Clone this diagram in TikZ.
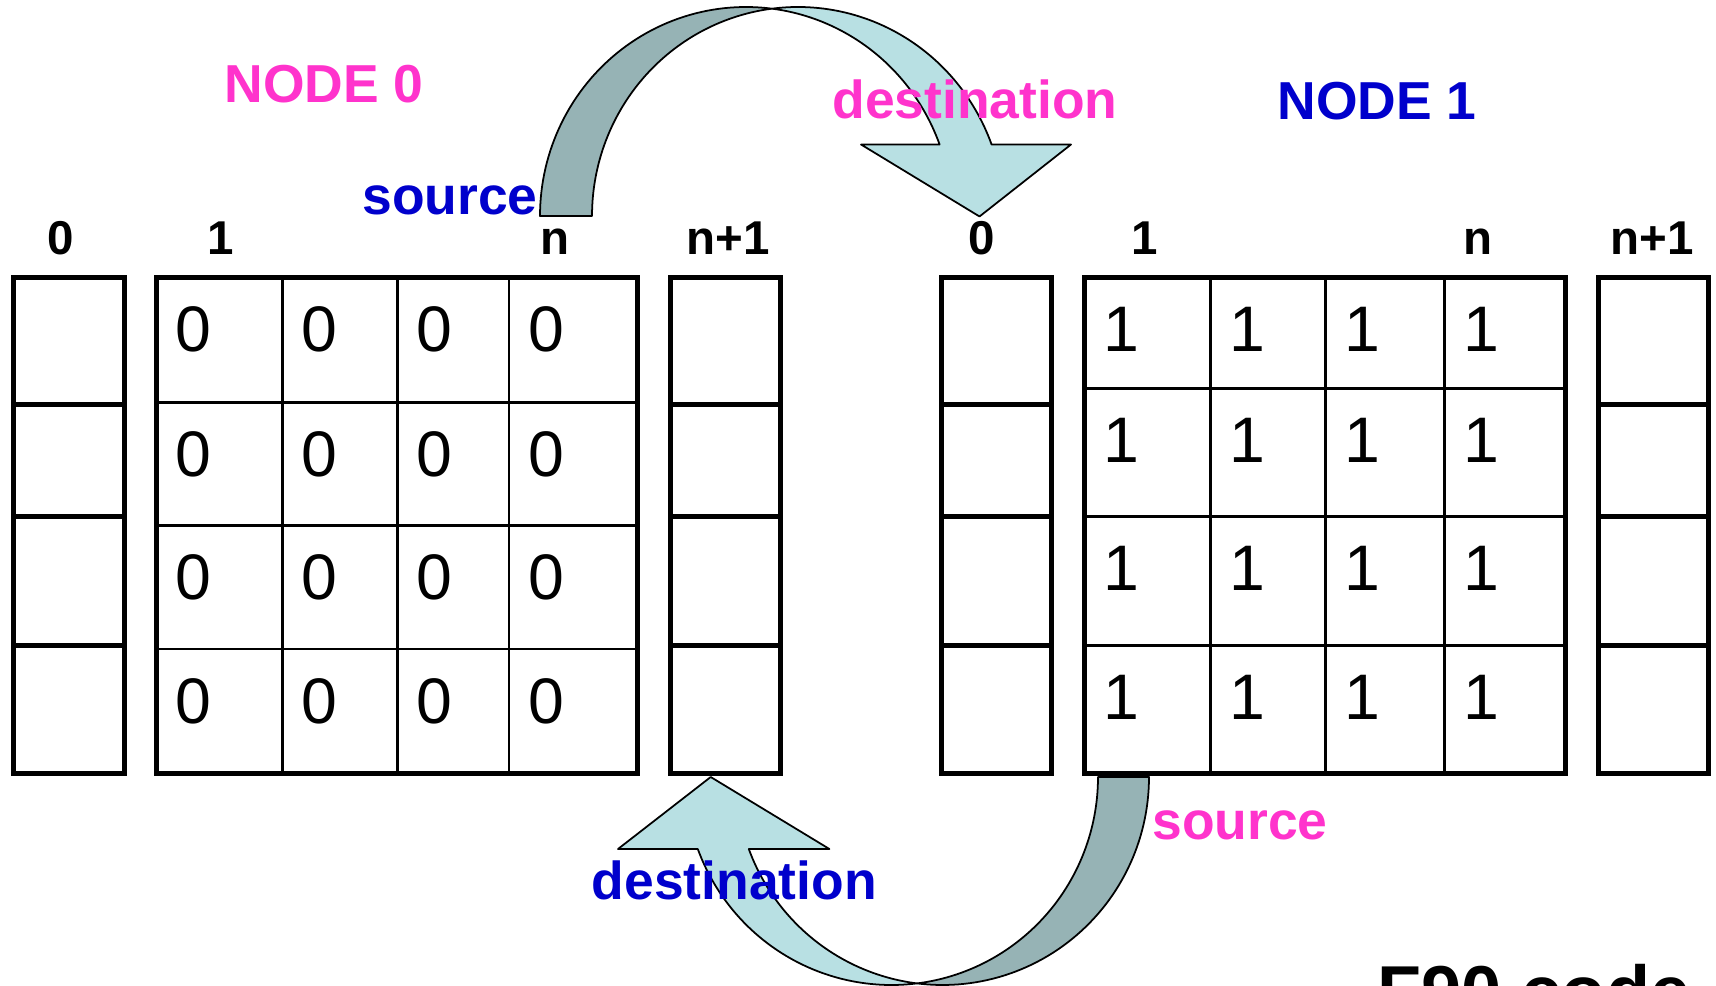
\documentclass[tikz,border=0pt]{standalone}
\usepackage{fontspec}
\setmainfont{Liberation Sans}
\definecolor{pinktxt}{RGB}{255,51,204}
\definecolor{bluetxt}{RGB}{0,0,204}
\definecolor{arrowlight}{RGB}{184,224,227}
\definecolor{arrowdark}{RGB}{150,179,181}
\begin{document}
\begin{tikzpicture}[x=0.01cm,y=-0.01cm,
  boxline/.style={line width=1.42pt},
  gridline/.style={line width=0.77pt},
  arrowpart/.style={draw=black,line width=0.5pt,line join=round},
  lbl/.style={font=\fontsize{15.2}{18}\selectfont\bfseries,inner sep=0pt,anchor=base},
  idx/.style={font=\fontsize{13.5}{16}\selectfont\bfseries,inner sep=0pt,anchor=base},
  cellnum/.style={font=\fontsize{18.3}{22}\selectfont,inner sep=0pt,anchor=base west}]
\useasboundingbox (0,0) rectangle (1716,986);

% ---------- side columns (stacks of four boxes) ----------
\foreach \xa/\xb in {13.2/124.8, 670/780, 941/1051, 1598/1708}{
  \draw[boxline] (\xa,277.5) rectangle (\xb,773.2);
  \foreach \yy in {405,516.6,645.7}{
    \draw[boxline] (\xa,\yy) -- (\xb,\yy);
  }
}

% ---------- left matrix ----------
\foreach \xx in {282.3,397.3,509}{\draw[gridline] (\xx,277.5) -- (\xx,773.2);}
\foreach \yy in {402.3,525.3,649}{\draw[gridline] (156.7,\yy) -- (637,\yy);}
\draw[boxline] (156.7,277.5) rectangle (637,773.2);
\foreach \c/\xx in {1/156.7,2/282.3,3/397.3,4/509}{
  \foreach \r/\yy in {1/277.5,2/402.3,3/525.3,4/649}{
    \node[cellnum] (L-\r-\c) at (\xx+18.5,\yy+74) {0};
  }
}

% ---------- right matrix ----------
\foreach \xx in {1210.7,1325.5,1444.5}{\draw[gridline] (\xx,277.5) -- (\xx,773.2);}
\foreach \yy in {388.7,516.6,645.7}{\draw[gridline] (1084.5,\yy) -- (1565.5,\yy);}
\draw[boxline] (1084.5,277.5) rectangle (1565.5,773.2);
\foreach \c/\xx in {1/1084.5,2/1210.7,3/1325.5,4/1444.5}{
  \foreach \r/\yy in {1/277.5,2/388.7,3/516.6,4/645.7}{
    \node[cellnum] (R-\r-\c) at (\xx+18.5,\yy+74) {1};
  }
}

% ---------- column indices ----------
\node[idx] (l0)  at (60.5,255) {0};
\node[idx] (l1)  at (220.5,255) {1};
\node[idx] (ln)  at (555,255) {n};
\node[idx] (lnp) at (728,255) {n+1};
\node[idx] (r0)  at (982,255) {0};
\node[idx] (r1)  at (1144.5,255) {1};
\node[idx] (rn)  at (1478,255) {n};
\node[idx] (rnp) at (1652,255) {n+1};

% ---------- top curved arrow (node 0 -> node 1) ----------
\path[arrowpart,fill=arrowdark]
  plot[domain=180:277.25,samples=60] ({746+206*cos(\x)},{216+209*sin(\x)})
  -- plot[domain=262.75:180,samples=60] ({798+206*cos(\x)},{216+209*sin(\x)})
  -- cycle;
\path[arrowpart,fill=arrowlight]
  plot[domain=262.75:340,samples=60] ({798+206*cos(\x)},{216+209*sin(\x)})
  -- (1071,144.5) -- (979.5,216.5) -- (861,144.5)
  -- plot[domain=340:277.25,samples=60] ({746+206*cos(\x)},{216+209*sin(\x)})
  -- cycle;

% ---------- bottom curved arrow (node 1 -> node 0) ----------
\path[arrowpart,fill=arrowdark]
  plot[domain=82.9:0,samples=60] ({891.5+206.5*cos(\x)},{777+208*sin(\x)})
  -- plot[domain=0:97.1,samples=60] ({942.5+206.5*cos(\x)},{777+208*sin(\x)})
  -- cycle;
\path[arrowpart,fill=arrowlight]
  plot[domain=82.9:159.75,samples=60] ({891.5+206.5*cos(\x)},{777+208*sin(\x)})
  -- (618,849) -- (710.7,777) -- (829.4,849)
  -- plot[domain=159.75:97.1,samples=60] ({942.5+206.5*cos(\x)},{777+208*sin(\x)})
  -- cycle;

% ---------- labels ----------
\node[lbl,text=pinktxt] (node0) at (324,102.3) {NODE 0};
\node[lbl,text=bluetxt] (node1) at (1377,119.3) {NODE 1};
\node[lbl,text=bluetxt] (src0)  at (450,215) {source};
\node[lbl,text=pinktxt] (dst1)  at (975,118.5) {destination};
\node[lbl,text=pinktxt] (src1)  at (1240,839.3) {source};
\node[lbl,text=bluetxt] (dst0)  at (734.2,899.3) {destination};
\node[anchor=base west,font=\fontsize{20.5}{24}\selectfont\bfseries,inner sep=0pt] (f90) at (1377,1016) {F90 code};
\end{tikzpicture}
\end{document}
